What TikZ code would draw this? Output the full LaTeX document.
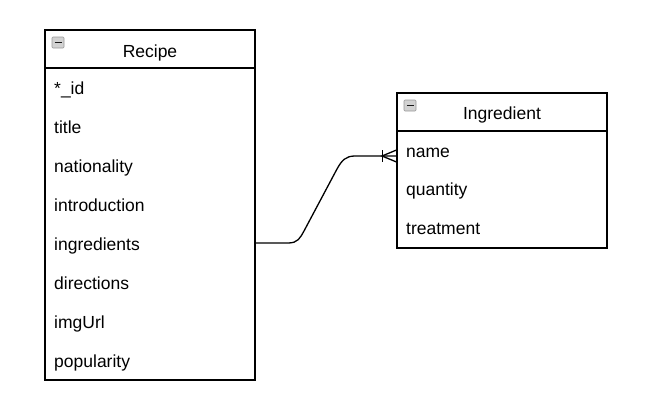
\documentclass[tikz,border=0pt]{standalone}
\usepackage{fontspec}
\setmainfont{Liberation Sans}
\begin{document}
\begin{tikzpicture}[x=1pt,y=-1pt,
  box/.style={draw=black, line width=1.3pt},
  hdr/.style={font=\fontsize{17.5}{20}\selectfont, anchor=base, inner sep=0pt},
  row/.style={font=\fontsize{17.5}{20}\selectfont, anchor=base west, inner sep=0pt},
  icon/.style={draw=gray!80, fill=gray!35, rounded corners=1pt, line width=0.6pt},
  conn/.style={line width=1.3pt, black}]
\useasboundingbox (0,0) rectangle (665,400);
\fill[white] (0,0) rectangle (665,400);
% Recipe
\draw[box] (45,30) rectangle (255,380);
\draw[box] (45,68) -- (255,68);
\node[hdr] (rh) at (150,57) {Recipe};
\draw[icon] (52,37) rectangle (64,48);
\draw[line width=1.5pt, gray!20!black] (54.5,42.5) -- (61.5,42.5);
\node[row] (r1) at (54,94) {*\_id};
\node[row] (r2) at (54,133) {title};
\node[row] (r3) at (54,172) {nationality};
\node[row] (r4) at (54,211) {introduction};
\node[row] (r5) at (54,250) {ingredients};
\node[row] (r6) at (54,289) {directions};
\node[row] (r7) at (54,328) {imgUrl};
\node[row] (r8) at (54,367) {popularity};
% Ingredient
\draw[box] (397,93) rectangle (607,248);
\draw[box] (397,131) -- (607,131);
\node[hdr] (ih) at (502,119) {Ingredient};
\draw[icon] (404,100) rectangle (416,111);
\draw[line width=1.5pt, gray!20!black] (406.5,105.5) -- (413.5,105.5);
\node[row] (i1) at (406,157) {name};
\node[row] (i2) at (406,195) {quantity};
\node[row] (i3) at (406,234) {treatment};
% connector
\coordinate (a) at (256,243);
\coordinate (b) at (396.5,156);
\draw[conn] (a) -- (288,243) .. controls (298,243) and (300,238) .. (304,231)
  -- (337,169) .. controls (342,160) and (346,156) .. (355,156) -- (b);
\draw[conn] (382.5,150) -- (382.5,162);
\draw[conn] (b|-0,150) -- (382,156) -- (b|-0,162);
\end{tikzpicture}
\end{document}
